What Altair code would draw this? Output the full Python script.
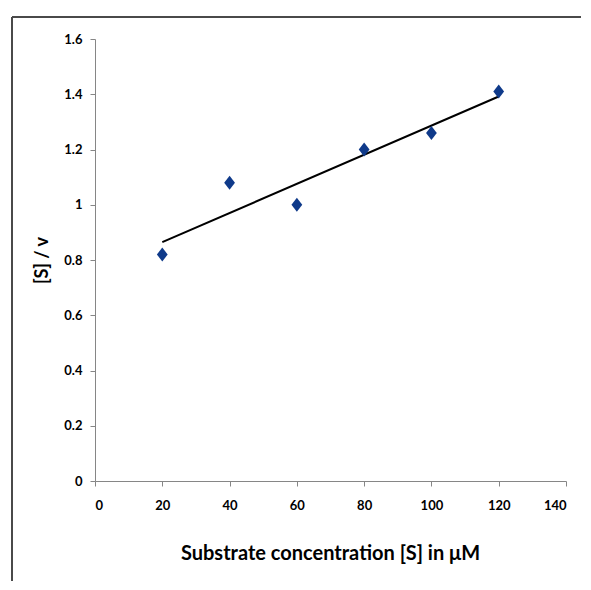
import altair as alt
import pandas as pd

substrate = [20, 40, 60, 80, 100, 120]
s_over_v = [0.82, 1.08, 1.00, 1.20, 1.26, 1.41]

x_ticks = [0, 20, 40, 60, 80, 100, 120, 140]
y_ticks = [0, 0.2, 0.4, 0.6, 0.8, 1.0, 1.2, 1.4, 1.6]

df = pd.DataFrame({"S": substrate, "SV": s_over_v})

FONT = "Lato"
AX = "#868686"

x_enc = alt.X(
    "S:Q",
    scale=alt.Scale(domain=[0, 140], nice=False),
    axis=alt.Axis(
        values=x_ticks, format="d", title="Substrate concentration [S] in μM",
        grid=False, domainColor=AX, tickColor=AX, tickSize=5,
        labelFont=FONT, labelFontSize=13, labelFontWeight="bold", labelColor="#000",
        labelPadding=13, titleFont=FONT, titleFontSize=20, titleFontWeight="bold",
        titleColor="#000", titleX=235, titleY=72, titleBaseline="middle",
    ),
)
y_enc = alt.Y(
    "SV:Q",
    scale=alt.Scale(domain=[0, 1.6], nice=False),
    axis=alt.Axis(
        values=y_ticks, format=".1~f", title="[S] / v",
        grid=False, domainColor=AX, tickColor=AX, tickSize=5,
        labelFont=FONT, labelFontSize=13, labelFontWeight="bold", labelColor="#000",
        labelPadding=8, titleFont=FONT, titleFontSize=18, titleFontWeight="bold",
        titleColor="#000", titleX=-53, titleY=221, titleAngle=-90, titleBaseline="middle",
    ),
)

points = alt.Chart(df).mark_point(
    shape="M0,-1L0.77,0L0,1L-0.77,0Z", filled=True, size=196, color="#0f3a8a", opacity=1
).encode(x=x_enc, y=y_enc)

trend = alt.Chart(df).transform_regression("S", "SV").mark_line(
    color="#000", strokeWidth=2
).encode(x="S:Q", y="SV:Q")

frame_data = alt.Data(values=[{"a": 1}])
frame_top = alt.Chart(frame_data).mark_rule(color="#4a4a4a", strokeWidth=2).encode(
    x=alt.value(-83), x2=alt.value(620), y=alt.value(-22)
)
frame_left = alt.Chart(frame_data).mark_rule(color="#4a4a4a", strokeWidth=2).encode(
    x=alt.value(-83), y=alt.value(-22), y2=alt.value(620)
)

chart = alt.layer(trend, points, frame_top, frame_left).properties(
    width=471, height=442,
    autosize=alt.AutoSizeParams(type="none"),
    padding={"left": 87, "top": 31, "right": 15, "bottom": 100},
).configure_view(stroke=None)

chart.save("out.html", embed_options={"renderer": "svg", "actions": False})
